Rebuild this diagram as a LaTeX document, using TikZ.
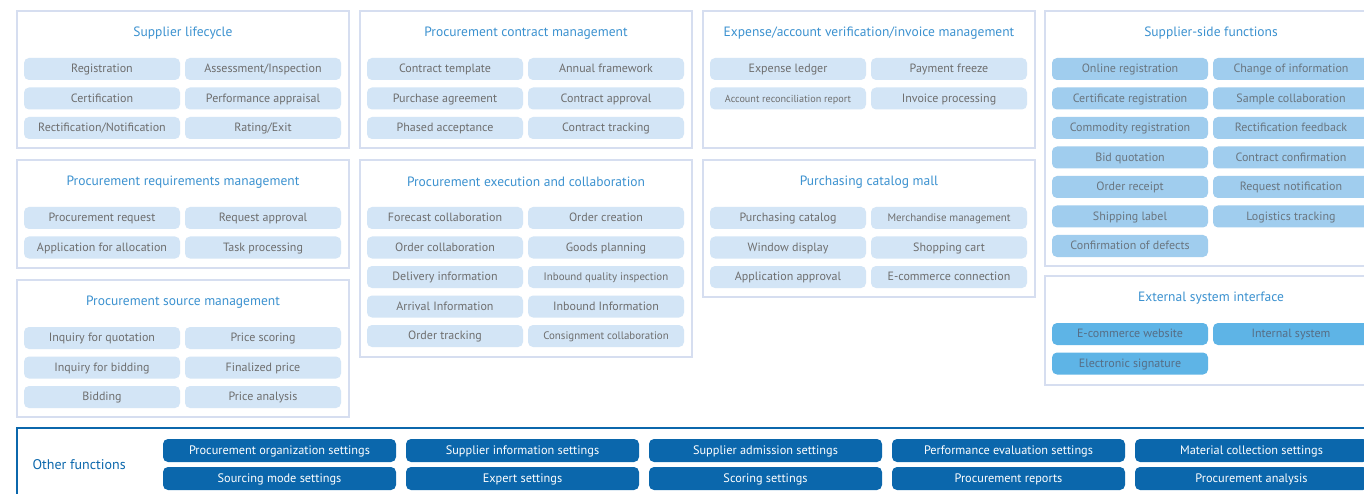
\documentclass[tikz,border=0pt]{standalone}
\usepackage{fontspec}
\setmainfont{PT Sans}
\usetikzlibrary{calc}

\definecolor{panelline}{HTML}{D6DEF0}
\definecolor{titleblue}{HTML}{3C92D0}
\definecolor{itemfill}{HTML}{D3E5F6}
\definecolor{itemgray}{HTML}{6E6E6E}
\definecolor{sidefill}{HTML}{A0CDEE}
\definecolor{sidegray}{HTML}{6A7680}
\definecolor{extfill}{HTML}{5EB4E6}
\definecolor{extgray}{HTML}{566E86}
\definecolor{darkblue}{HTML}{0B67AC}

\def\narrow{\fontsize{10.9}{13}\selectfont}
\def\narrower{\fontsize{10.2}{12}\selectfont}

\tikzset{
	panel/.style={draw=panelline, line width=1.2pt, fill=white},
	paneltitle/.style={text=titleblue, font=\fontsize{13.5}{15}\selectfont},
	item/.style={rounded corners=5pt, minimum width=156pt, minimum height=22pt, inner sep=0pt,
		text height=9pt, text depth=1.5pt, font=\fontsize{12}{14}\selectfont, fill=itemfill, text=itemgray},
	sideitem/.style={item, fill=sidefill, text=sidegray},
	extitem/.style={item, fill=extfill, text=extgray},
	setting/.style={item, minimum width=233pt, minimum height=23pt, font=\fontsize{12.3}{14}\selectfont, fill=darkblue, text=white}
}

% name, left, top, bottom, title, item style, items
\def\panel#1#2#3#4#5#6#7{%
	\draw[panel] (#2,#3) rectangle (#2+332,#4);
	\node[paneltitle] (#1) at (#2+166,#3+22) {#5};
	\foreach \t [count=\i from 0] in {#7}{%
		\pgfmathsetmacro\ix{#2+85+161*mod(\i,2)}
		\pgfmathsetmacro\iy{#3+58+29.5*floor(\i/2)}
		\node[#6] (#1-\i) at (\ix,\iy) {\t};
	}%
}

\begin{document}
\begin{tikzpicture}[x=1pt, y=-1pt]
				\useasboundingbox (0,0) rectangle (1364,494);
				\clip (0,0) rectangle (1364,494);
				
				\panel{lifecycle}{17}{11}{148}{Supplier lifecycle}{item}{Registration, Assessment/Inspection, Certification, Performance appraisal, Rectification/Notification, Rating/Exit}
				\panel{requirements}{17}{160}{268}{Procurement requirements management}{item}{Procurement request, Request approval, Application for allocation, Task processing}
				\panel{source}{17}{280}{417}{Procurement source management}{item}{Inquiry for quotation, Price scoring, Inquiry for bidding, Finalized price, Bidding, Price analysis}
				
				\panel{contract}{360}{11}{148}{Procurement contract management}{item}{Contract template, Annual framework, Purchase agreement, Contract approval, Phased acceptance, Contract tracking}
				\panel{execution}{360}{160}{357}{Procurement execution and collaboration}{item}{Forecast collaboration, Order creation, Order collaboration, Goods planning, Delivery information, \narrow Inbound quality inspection, Arrival Information, Inbound Information, Order tracking, \narrow Consignment collaboration}
				
				\panel{expense}{703}{11}{148}{Expense/account verification/invoice management}{item}{Expense ledger, Payment freeze, \narrower Account reconciliation report, Invoice processing}
				\panel{catalog}{703}{160}{297}{Purchasing catalog mall}{item}{Purchasing catalog, \narrow Merchandise management, Window display, Shopping cart, Application approval, E-commerce connection}
				
				\panel{supplierside}{1045}{11}{266}{Supplier-side functions}{sideitem}{Online registration, Change of information, Certificate registration, Sample collaboration, Commodity registration, Rectification feedback, Bid quotation, Contract confirmation, Order receipt, Request notification, Shipping label, Logistics tracking, Confirmation of defects}
				\panel{external}{1045}{276}{385}{External system interface}{extitem}{E-commerce website, Internal system, Electronic signature}
				
				% other functions
				\draw[draw=darkblue, line width=1.5pt] (17,428) rectangle (1400,510);
				\node[anchor=west, text=darkblue, font=\fontsize{14}{16}\selectfont] (other) at (29,465) {Other functions};
				\foreach \t [count=\i from 0] in {Procurement organization settings, Supplier information settings, Supplier admission settings, Performance evaluation settings, Material collection settings, Sourcing mode settings, Expert settings, Scoring settings, Procurement reports, Procurement analysis}{
					\pgfmathsetmacro\ix{279.5+243*mod(\i,5)}
					\pgfmathsetmacro\iy{450.5+28*floor(\i/5)}
					\node[setting] (other-\i) at (\ix,\iy) {\t};
				}
			\end{tikzpicture}
\end{document}
